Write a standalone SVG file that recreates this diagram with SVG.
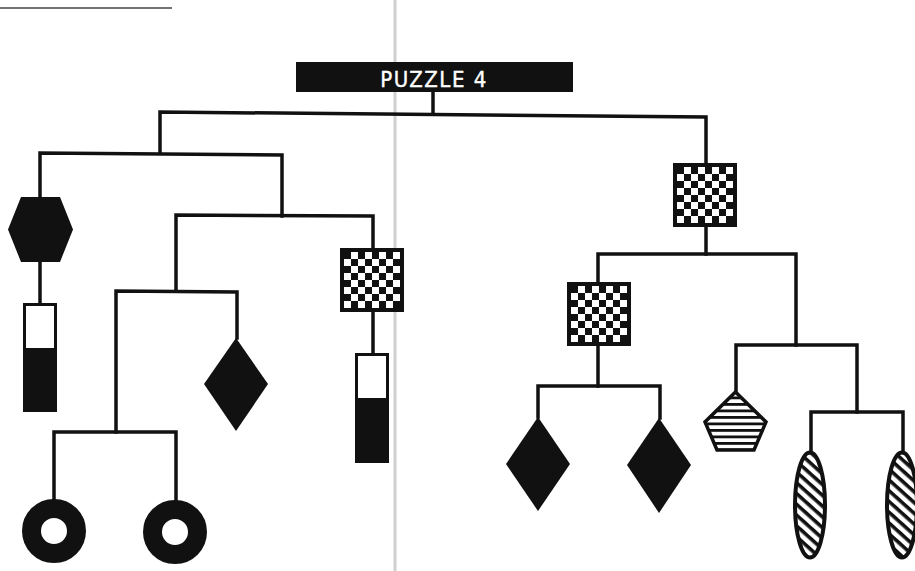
<svg xmlns="http://www.w3.org/2000/svg" width="915" height="571" viewBox="0 0 915 571">
<style>
.ln{fill:none;stroke:#111;stroke-width:3.5;stroke-linecap:square;stroke-linejoin:miter}
.blk{fill:#111}
.ttl{font-family:"DejaVu Sans Condensed","DejaVu Sans",sans-serif;font-size:22px;fill:#fff;letter-spacing:1.5px;stroke:#fff;stroke-width:0.4}
</style>
<defs>
<pattern id="chk" patternUnits="userSpaceOnUse" x="4" y="4" width="14" height="14">
<rect width="14" height="14" fill="#fff"/>
<rect width="7" height="7" fill="#111"/>
<rect x="7" y="7" width="7" height="7" fill="#111"/>
</pattern>
<pattern id="hstripe" patternUnits="userSpaceOnUse" x="0" y="0" width="10" height="6.5">
<rect width="10" height="6.5" fill="#fff"/>
<rect y="0" width="10" height="2.8" fill="#111"/>
</pattern>
<pattern id="diag" patternUnits="userSpaceOnUse" width="10" height="8" patternTransform="rotate(42)">
<rect width="10" height="8" fill="#fff"/>
<rect width="10" height="3.6" fill="#111"/>
</pattern>
</defs>
<rect width="915" height="571" fill="#fff"/>
<line x1="0" y1="8" x2="172" y2="8" stroke="#444" stroke-width="1.3"/>
<line x1="395" y1="0" x2="395" y2="571" stroke="#cfcfcf" stroke-width="3"/>

<g id="connectors" class="ln">
<path d="M433 92 V113.5"/>
<path d="M160 153 V112 L706 117 V163"/>
<path d="M40 197 V153 L282 155 V216"/>
<path d="M40 262 V304"/>
<path d="M176 291 V215 L373 216 V248"/>
<path d="M373 312 V354"/>
<path d="M116 432 V291 L237 292 V338"/>
<path d="M54 499 V432 H176 V500"/>
<path d="M706 226 V254"/>
<path d="M598 282 V254 H796 V345"/>
<path d="M598 346 V386"/>
<path d="M538 417 V386 H660 V418"/>
<path d="M736 392 V345 H857 V412"/>
<path d="M811 451 V412 H903 V451"/>
</g>

<g id="title">
<rect x="296" y="62" width="277" height="30" class="blk"/>
<text x="434" y="87" text-anchor="middle" class="ttl">PUZZLE 4</text>
</g>

<g id="hexagon">
<polygon points="21,197 60,197 73,229.5 60,262 21,262 8,229.5" class="blk"/>
</g>
<g id="bar-left">
<rect x="24.5" y="304.5" width="31" height="106" fill="#fff" stroke="#111" stroke-width="3"/>
<rect x="23" y="348" width="34" height="64" class="blk"/>
</g>
<g id="ring-left">
<circle cx="54" cy="531" r="22.5" fill="none" stroke="#111" stroke-width="19"/>
</g>
<g id="ring-right">
<circle cx="175" cy="532" r="22.5" fill="none" stroke="#111" stroke-width="19"/>
</g>
<g id="diamond-left">
<polygon points="236,338 268,384 236,431 204,384" class="blk"/>
</g>
<g id="checker-a" transform="translate(340,248)">
<rect x="2" y="2" width="60" height="60" fill="url(#chk)" stroke="#111" stroke-width="4"/>
</g>
<g id="bar-right">
<rect x="356.5" y="354.5" width="31" height="107" fill="#fff" stroke="#111" stroke-width="3"/>
<rect x="355" y="398" width="34" height="65" class="blk"/>
</g>
<g id="checker-top" transform="translate(673,163)">
<rect x="2" y="2" width="60" height="60" fill="url(#chk)" stroke="#111" stroke-width="4"/>
</g>
<g id="checker-b" transform="translate(567,282)">
<rect x="2" y="2" width="60" height="60" fill="url(#chk)" stroke="#111" stroke-width="4"/>
</g>
<g id="diamond-b1">
<polygon points="538,417 570,464 538,511 506,464" class="blk"/>
</g>
<g id="diamond-b2">
<polygon points="659,418 691,465 659,513 627,465" class="blk"/>
</g>
<g id="pentagon">
<polygon points="735.5,392 766,422 754,450 717,450 705,422" fill="url(#hstripe)" stroke="#111" stroke-width="3.5" stroke-linejoin="miter"/>
</g>
<g id="ellipse-left">
<ellipse cx="810" cy="505" rx="15" ry="52.5" fill="url(#diag)" stroke="#111" stroke-width="4"/>
</g>
<g id="ellipse-right">
<ellipse cx="902" cy="505" rx="15" ry="52.5" fill="url(#diag)" stroke="#111" stroke-width="4"/>
</g>
</svg>
